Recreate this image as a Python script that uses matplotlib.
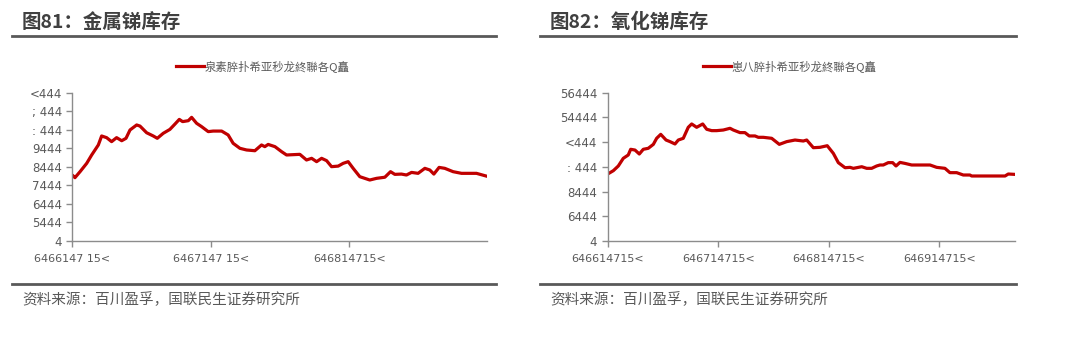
import matplotlib
matplotlib.use("Agg")
import matplotlib.pyplot as plt
from matplotlib.lines import Line2D

plt.rcParams['font.family'] = ['Noto Sans CJK SC', 'DejaVu Sans']

# left chart: metal antimony inventory (x in years from first tick)
metal_x = [0.007, 0.019, 0.056, 0.104, 0.140, 0.188, 0.212, 0.248, 0.284, 0.320,
           0.357, 0.388, 0.417, 0.465, 0.489, 0.537, 0.585, 0.614, 0.657, 0.705,
           0.742, 0.773, 0.797, 0.838, 0.862, 0.898, 0.934, 0.982, 1.018, 1.079,
           1.126, 1.162, 1.211, 1.259, 1.319, 1.367, 1.391, 1.415, 1.464, 1.512,
           1.548, 1.644, 1.692, 1.729, 1.765, 1.801, 1.837, 1.873, 1.921, 1.957,
           1.993, 2.029, 2.077, 2.149, 2.198, 2.258, 2.299, 2.330, 2.378, 2.414,
           2.451, 2.498, 2.547, 2.583, 2.612, 2.650, 2.691, 2.751, 2.812, 2.920,
           2.992]
metal_y = [3506, 3416, 3740, 4190, 4640, 5180, 5665, 5575, 5360, 5575,
           5410, 5540, 5990, 6260, 6200, 5840, 5665, 5540, 5810, 6020,
           6310, 6560, 6440, 6490, 6670, 6350, 6170, 5900, 5930, 5930,
           5720, 5270, 5000, 4910, 4870, 5180, 5090, 5210, 5090, 4820,
           4640, 4675, 4370, 4460, 4280, 4460, 4335, 4010, 4040, 4190,
           4280, 3920, 3470, 3290, 3380, 3440, 3740, 3595, 3610, 3560,
           3700, 3650, 3920, 3830, 3610, 3970, 3920, 3740, 3650, 3650,
           3500]

# right chart: antimony oxide inventory
oxide_x = [0.000, 0.051, 0.096, 0.141, 0.186, 0.208, 0.247, 0.286, 0.322, 0.367,
           0.413, 0.443, 0.480, 0.528, 0.564, 0.609, 0.639, 0.684, 0.729, 0.760,
           0.805, 0.860, 0.896, 0.941, 0.986, 1.046, 1.107, 1.137, 1.197, 1.242,
           1.281, 1.333, 1.363, 1.408, 1.484, 1.553, 1.620, 1.695, 1.770, 1.801,
           1.861, 1.921, 1.987, 2.042, 2.087, 2.148, 2.193, 2.223, 2.299, 2.344,
           2.389, 2.434, 2.464, 2.494, 2.539, 2.579, 2.609, 2.645, 2.690, 2.751,
           2.917, 2.977, 3.052, 3.097, 3.158, 3.218, 3.278, 3.294, 3.596, 3.625,
           3.686]
oxide_y = [5420, 5690, 6070, 6690, 6960, 7420, 7360, 7040, 7420, 7500,
           7820, 8310, 8630, 8170, 8040, 7850, 8170, 8310, 9200, 9470,
           9200, 9470, 9040, 8930, 8930, 8980, 9120, 8980, 8770, 8770,
           8500, 8500, 8390, 8390, 8310, 7820, 8040, 8170, 8090, 8170,
           7550, 7580, 7710, 7090, 6340, 5930, 5960, 5880, 6010, 5880,
           5880, 6070, 6150, 6150, 6340, 6340, 6070, 6360, 6280, 6150,
           6150, 5960, 5880, 5530, 5530, 5340, 5340, 5260, 5260, 5420,
           5390]

metal_yticks = [0, 1000, 2000, 3000, 4000, 5000, 6000, 7000, 8000]
metal_ylabels = ['4', '5444', '6444', '7444', '8444', '9444', ': 444', '; 444', '<444']
oxide_yticks = [0, 2000, 4000, 6000, 8000, 10000, 12000]
oxide_ylabels = ['4', '6444', '8444', ': 444', '<444', '54444', '56444']
metal_xlabels = ['6466147 15<', '6467147 15<', '646814715<']
oxide_xlabels = ['646614715<', '646714715<', '646814715<', '646914715<']

titles = ['图81：金属锑库存', '图82：氧化锑库存']
legends = ['泉素脺扑希亚秒龙終聯各Q矗', '崽八脺扑希亚秒龙終聯各Q矗']
source = '资料来源：百川盈孚，国联民生证券研究所'

RED = '#C00000'
GREY = '#595959'
W, H = 1080, 342

fig = plt.figure(figsize=(10.8, 3.42), dpi=100)


def panel(left_px, right_px, x, y, yticks, ylabels, xlabels, xmax, title,
          legend, legend_cx, frame):
    ax = fig.add_axes([left_px / W, 1 - 241 / H, (right_px - left_px) / W,
                       (241 - 92.7) / H])
    ax.plot(x, y, color=RED, lw=2.3, label=legend, solid_joinstyle='round')
    ax.set_xlim(0, xmax)
    ax.set_ylim(yticks[0], yticks[-1])
    ax.set_yticks(yticks)
    ax.set_yticklabels(ylabels, family='DejaVu Sans', fontsize=8.5)
    ax.set_xticks(range(len(xlabels)))
    ax.set_xticklabels(xlabels, family='DejaVu Sans', fontsize=8)
    for s in ['top', 'right']:
        ax.spines[s].set_visible(False)
    for s in ['left', 'bottom']:
        ax.spines[s].set_color('#8c8c8c')
        ax.spines[s].set_linewidth(1)
    ax.tick_params(colors='#8c8c8c', labelcolor=GREY, length=4, width=1)
    ax.tick_params(axis='x', pad=5)
    ax.legend(loc='center', bbox_to_anchor=(legend_cx / W, 1 - 66 / H),
              bbox_transform=fig.transFigure, frameon=False, fontsize=8.2,
              handlelength=2.4, handletextpad=0.1, labelcolor=GREY)
    # header and footer rules
    fig.add_artist(Line2D([frame[0] / W, frame[1] / W], [1 - 35.5 / H] * 2,
                          color=GREY, lw=2))
    fig.add_artist(Line2D([frame[0] / W, frame[1] / W], [1 - 284 / H] * 2,
                          color=GREY, lw=2))
    fig.text((frame[0] + 10) / W, 1 - 22 / H, title, fontsize=14,
             fontweight='bold', color='#404040', va='center')
    fig.text((frame[0] + 10) / W, 1 - 300 / H, source, fontsize=10.5,
             color=GREY, va='center')
    return ax


panel(72.3, 487, metal_x, metal_y, metal_yticks, metal_ylabels, metal_xlabels,
      2.996, titles[0], legends[0], 263, (12, 495.5))
panel(607.7, 1015, oxide_x, oxide_y, oxide_yticks, oxide_ylabels, oxide_xlabels,
      3.686, titles[1], legends[1], 790, (540, 1015.5))

fig.savefig('out.png', dpi=100)
